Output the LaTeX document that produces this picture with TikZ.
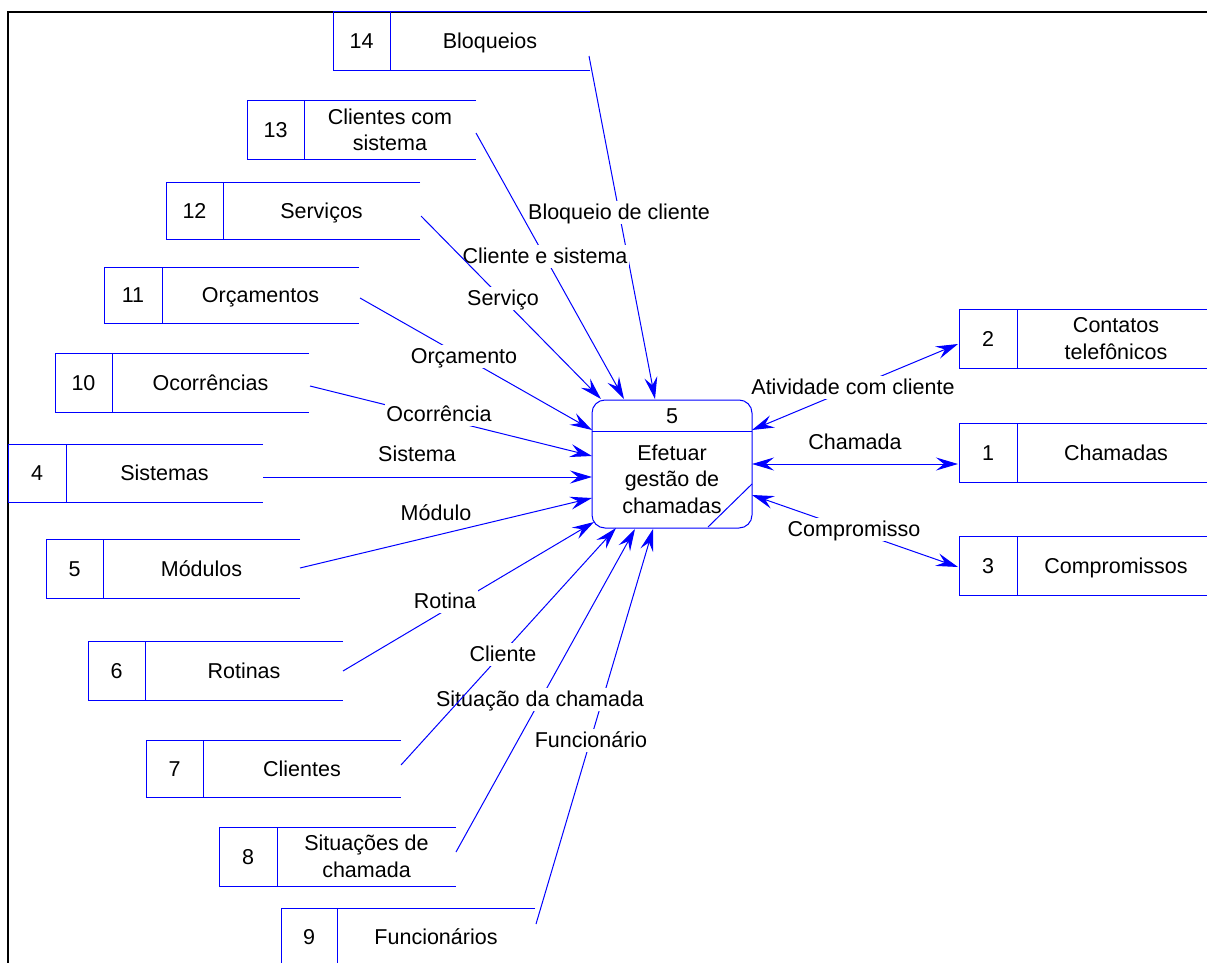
\documentclass[tikz,border=0pt]{standalone}
\usepackage{fontspec}
\setmainfont{Liberation Sans}
\usetikzlibrary{arrows.meta}
\definecolor{dfdblue}{RGB}{0,0,255}

% data store: #1 name, #2 left, #3 top, #4 bottom, #5 divider, #6 right,
% #7 number, #8 title, #9 style of the title
\newcommand\datastore[9]{%
  \draw[storeline] (#6,#3) -- (#2,#3) -- (#2,#4) -- (#6,#4);
  \draw[storeline] (#5,#3) -- (#5,#4);
  \node[txt, oneline] (#1-num) at ({(#2+#5)/2},{(#3+#4)/2}) {#7};
  \node[txt, #9] (#1-title) at ({(#5+#6)/2},{(#3+#4)/2}) {#8};
}

\begin{document}
\begin{tikzpicture}[x=1pt,y=-1pt,
  txt/.style={font=\fontsize{21.5}{26.5}\selectfont, inner sep=0pt, align=center, text=black},
  oneline/.style={text height=15pt, text depth=0pt},
  multi/.style={},
  lbl/.style={txt, oneline, fill=white, inner xsep=1.5pt, inner ysep=4pt},
  storeline/.style={draw=dfdblue, line width=1pt},
  tip/.tip={Stealth[length=22pt,width=13pt,inset=8pt]},
  flow/.style={draw=dfdblue, fill=none, line width=1pt, -tip},
  biflow/.style={draw=dfdblue, line width=1pt, tip-tip},
]
\useasboundingbox (0,0) rectangle (1207,963);
\clip (0,0) rectangle (1207,963);

% outer frame
\draw[line width=2pt] (8,1000) -- (8,12) -- (1300,12);

% process 5
\draw[dfdblue, line width=1pt, rounded corners=13pt] (592,400) rectangle (752,528);
\draw[dfdblue, line width=1pt] (592,431) -- (752,431);
\draw[dfdblue, line width=1pt] (708,527) -- (752,484);
\node[txt, oneline] (p-num) at (672,416) {5};
\node[txt, multi] (p-name) at (672,479) {Efetuar\\gestão de\\chamadas};

% data stores
\datastore{s14}{333}{12}{71}{390}{590}{14}{Bloqueios}{oneline}
\datastore{s13}{247}{101}{159}{304}{476}{13}{Clientes com\\sistema}{multi}
\datastore{s12}{166}{182}{239}{223}{420}{12}{Serviços}{oneline}
\datastore{s11}{104}{267}{323}{162}{359}{11}{Orçamentos}{oneline}
\datastore{s10}{55}{353}{412}{112}{309}{10}{Ocorrências}{oneline}
\datastore{s4}{8}{444}{502}{66}{263}{4}{Sistemas}{oneline}
\datastore{s5}{46}{539}{598}{103}{300}{5}{Módulos}{oneline}
\datastore{s6}{88}{641}{700}{145}{343}{6}{Rotinas}{oneline}
\datastore{s7}{146}{740}{797}{203}{401}{7}{Clientes}{oneline}
\datastore{s8}{219}{827}{886}{277}{456}{8}{Situações de\\chamada}{multi}
\datastore{s9}{281}{908}{966}{337}{535}{9}{Funcionários}{oneline}
\datastore{s2}{959}{309}{368}{1017}{1215}{2}{Contatos\\telefônicos}{multi}
\datastore{s1}{959}{423}{482}{1017}{1215}{1}{Chamadas}{oneline}
\datastore{s3}{959}{536}{595}{1017}{1215}{3}{Compromissos}{oneline}

% connector ends on the stores
\coordinate (o14) at (589,56);
\coordinate (o13) at (476,133);
\coordinate (o12) at (421,216);
\coordinate (o11) at (360,298);
\coordinate (o10) at (310,386);
\coordinate (o4) at (263,477);
\coordinate (o5) at (300,568);
\coordinate (o6) at (343,671);
\coordinate (o7) at (401,765);
\coordinate (o8) at (456,852);
\coordinate (o9) at (536,924);
\coordinate (o2) at (958,344);
\coordinate (o1) at (958,464);
\coordinate (o3) at (958,567);

% connector ends on the process
\coordinate (i14) at (655,399);
\coordinate (i13) at (624,399);
\coordinate (i12) at (601,399);
\coordinate (i11) at (592,430);
\coordinate (i10) at (592,456);
\coordinate (i4) at (592,477);
\coordinate (i5) at (592,498);
\coordinate (i6) at (594,522);
\coordinate (i7) at (616,528);
\coordinate (i8) at (635,529);
\coordinate (i9) at (653,529);
\coordinate (i2) at (752,430);
\coordinate (i1) at (752,464);
\coordinate (i3) at (752,495);

% incoming flows
\draw[flow] (o14) -- (i14);
\node[lbl] (f14) at (619,212) {Bloqueio de cliente};
\draw[flow] (o13) -- (i13);
\node[lbl] (f13) at (545,256) {Cliente e sistema};
\draw[flow] (o12) -- (i12);
\node[lbl] (f12) at (503,298) {Serviço};
\draw[flow] (o11) -- (i11);
\node[lbl] (f11) at (464,356) {Orçamento};
\draw[flow] (o10) -- (i10);
\node[lbl] (f10) at (439,414) {Ocorrência};
\draw[flow] (o4) -- (i4);
\node[lbl] (f4) at (417,454) {Sistema};
\draw[flow] (o5) -- (i5);
\node[lbl] (f5) at (436,513) {Módulo};
\draw[flow] (o6) -- (i6);
\node[lbl] (f6) at (445,601) {Rotina};
\draw[flow] (o9) -- (i9);
\node[lbl] (f9) at (591,740) {Funcionário};
\draw[flow] (o8) -- (i8);
\node[lbl] (f8) at (540,699) {Situação da chamada};
\draw[flow] (o7) -- (i7);
\node[lbl] (f7) at (503,654) {Cliente};

% two-way flows
\draw[biflow] (i2) -- (o2);
\node[lbl] (f2) at (853,387) {Atividade com cliente};
\draw[biflow] (i1) -- (o1);
\node[lbl] (f1) at (855,442) {Chamada};
\draw[biflow] (i3) -- (o3);
\node[lbl] (f3) at (854,529) {Compromisso};
\end{tikzpicture}
\end{document}
